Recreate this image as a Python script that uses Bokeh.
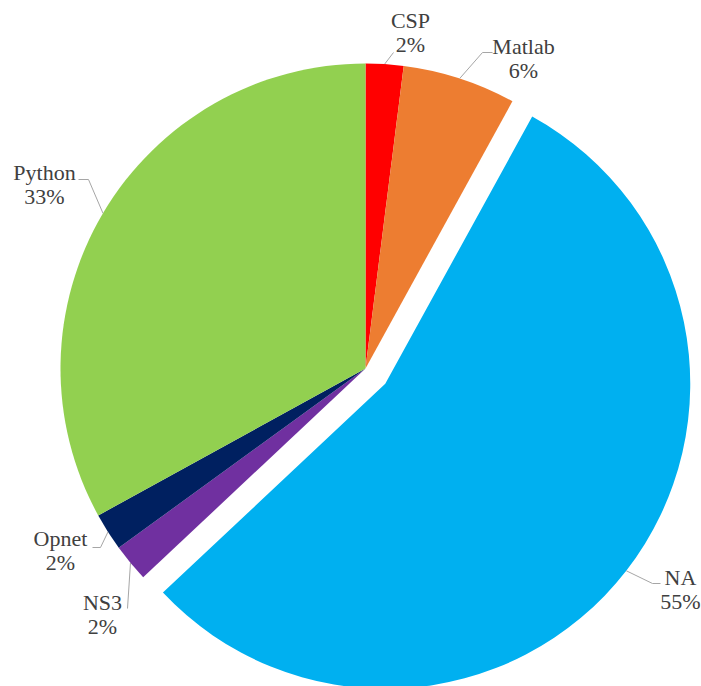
import math
from bokeh.plotting import figure
from bokeh.models import Range1d, ColumnDataSource, Label
from bokeh.embed import file_html
from bokeh.resources import INLINE

# ---- data ----
categories = ["CSP", "Matlab", "NA", "NS3", "Opnet", "Python"]
shares = [2, 6, 55, 2, 2, 33]
colors = ["#ff0000", "#ed7d31", "#00b0f0", "#7030a0", "#002060", "#92d050"]
exploded = [False, False, True, False, False, False]

# ---- layout (screen pixels, y downward; converted below) ----
W, H = 701, 686
CX, CY, R = 365, 368, 305
EXPLODE = 25
# label centre x, name baseline y, elbow points (screen) from label toward pie
label_pos = {
    "CSP":    (410, 27, [(393, 52)]),
    "Matlab": (523, 53, [(492, 52), (482, 52)]),
    "NA":     (680, 584, [(660, 583), (652, 583)]),
    "NS3":    (102, 609, [(127, 608)]),
    "Opnet":  (60, 545, [(92, 547), (100, 547)]),
    "Python": (44, 179, [(78, 179), (88, 179)]),
}
LINE_GAP = 24
BASE_SHIFT = -7
FONT = "Liberation Serif"

def dy(y):
    return H - y

p = figure(width=W, height=H, output_backend="svg", toolbar_location=None,
           x_range=Range1d(0, W), y_range=Range1d(0, H),
           min_border=0)
p.axis.visible = False
p.grid.visible = False
p.outline_line_color = None
p.background_fill_color = "white"

total = sum(shares)
cum = 0.0
xs, ys, starts, ends, cols = [], [], [], [], []
lx, ly = [], []
for cat, v, c, ex in zip(categories, shares, colors, exploded):
    t0 = cum / total * 2 * math.pi
    cum += v
    t1 = cum / total * 2 * math.pi
    tm = (t0 + t1) / 2
    ox = EXPLODE * math.sin(tm) if ex else 0.0
    oy = -EXPLODE * math.cos(tm) if ex else 0.0
    cx, cy = CX + ox, CY + oy
    xs.append(cx)
    ys.append(dy(cy))
    starts.append(math.pi / 2 - t0)
    ends.append(math.pi / 2 - t1)
    cols.append(c)
    # leader line
    ex_x = cx + R * math.sin(tm)
    ex_y = cy - R * math.cos(tm)
    pts = label_pos[cat][2] + [(ex_x, ex_y)]
    lx.append([q[0] for q in pts])
    ly.append([dy(q[1]) for q in pts])

src = ColumnDataSource(dict(x=xs, y=ys, s=starts, e=ends, c=cols))
p.wedge(x="x", y="y", radius=R, start_angle="s", end_angle="e",
        direction="clock", fill_color="c", line_color=None, source=src)

p.multi_line(xs=lx, ys=ly, line_color="#a6a6a6", line_width=1)

for cat, v in zip(categories, shares):
    x0, yb, _ = label_pos[cat]
    for k, s in enumerate([cat, f"{v}%"]):
        p.add_layout(Label(x=x0, y=dy(yb + BASE_SHIFT + k * LINE_GAP), text=s,
                           text_font=FONT, text_font_size="22px",
                           text_color="#404040", text_align="center",
                           text_baseline="alphabetic"))

open("out.html", "w").write(file_html(p, INLINE))
